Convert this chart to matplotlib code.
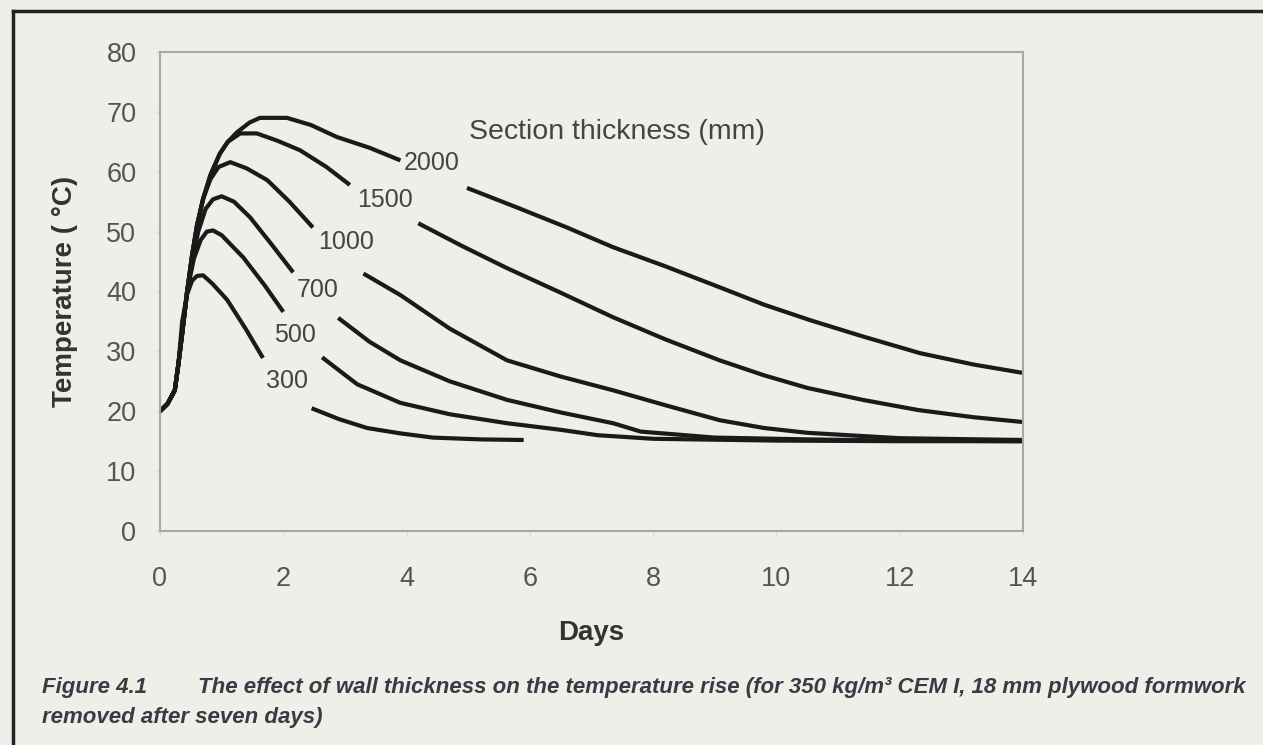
import numpy as np
import matplotlib.pyplot as plt
from matplotlib.lines import Line2D

plt.rcParams['font.family'] = ['Liberation Sans', 'DejaVu Sans']

nan = np.nan

# section thickness (mm) -> temperature curves, gap where the label sits
thickness = ['300', '500', '700', '1000', '1500', '2000']

days_300 = [0, 0.12, 0.24, 0.3, 0.36, 0.44, 0.52, 0.6, 0.7, 0.85, 1.09, 1.4, 1.67,
            nan, 2.46, 2.9, 3.36, 3.9, 4.43, 5.2, 5.9]
temp_300 = [20, 21.2, 23.5, 28, 35, 39.5, 41.8, 42.6, 42.7, 41.3, 38.6, 33.6, 28.9,
            nan, 20.5, 18.7, 17.2, 16.3, 15.6, 15.3, 15.2]

days_500 = [0, 0.12, 0.24, 0.3, 0.36, 0.44, 0.55, 0.66, 0.76, 0.86, 1.0, 1.35, 1.7, 2.0,
            nan, 2.63, 3.2, 3.9, 4.7, 5.63, 6.5, 7.1, 8.0, 10, 12, 14]
temp_500 = [20, 21.2, 23.5, 28, 33, 40, 45.5, 48.6, 50, 50.2, 49.4, 45.7, 41, 36.6,
            nan, 29.0, 24.5, 21.4, 19.5, 18.0, 16.9, 16.0, 15.4, 15.1, 15.0, 15.0]

days_700 = [0, 0.12, 0.24, 0.3, 0.36, 0.44, 0.52, 0.62, 0.74, 0.86, 1.0, 1.2, 1.46, 1.8, 2.16,
            nan, 2.89, 3.4, 3.9, 4.7, 5.63, 6.5, 7.35, 7.8, 9, 10.5, 12, 14]
temp_700 = [20, 21.2, 23.5, 28, 33, 40, 45, 50, 53.8, 55.4, 55.9, 55, 52.4, 48, 43.2,
            nan, 35.6, 31.6, 28.5, 25.0, 21.9, 19.8, 18.0, 16.6, 15.6, 15.3, 15.1, 15.0]

days_1000 = [0, 0.12, 0.24, 0.3, 0.36, 0.44, 0.52, 0.6, 0.7, 0.82, 0.95, 1.14, 1.4, 1.74, 2.1, 2.48,
             nan, 3.3, 3.9, 4.7, 5.63, 6.5, 7.35, 8.2, 9.08, 9.8, 10.5, 12, 14]
temp_1000 = [20, 21.2, 23.5, 28, 33, 40, 46, 51, 55.5, 58.8, 60.8, 61.6, 60.6, 58.6, 55.0, 50.7,
             nan, 43.0, 39.4, 33.8, 28.5, 25.8, 23.5, 21.0, 18.5, 17.2, 16.4, 15.5, 15.2]

days_1500 = [0, 0.12, 0.24, 0.3, 0.36, 0.44, 0.52, 0.6, 0.7, 0.82, 0.97, 1.1, 1.3, 1.57, 1.9, 2.27,
             2.7, 3.08, nan, 4.19, 4.9, 5.63, 6.5, 7.35, 8.2, 9.08, 9.8, 10.5, 11.4, 12.3, 13.2, 14]
temp_1500 = [20, 21.2, 23.5, 28, 33, 40, 46, 51, 55.5, 59.5, 63, 65, 66.4, 66.4, 65.2, 63.6,
             60.8, 57.8, nan, 51.4, 47.6, 43.9, 39.8, 35.7, 32.0, 28.5, 26.0, 23.9, 21.9, 20.2, 19.0, 18.2]

days_2000 = [0, 0.12, 0.24, 0.3, 0.36, 0.44, 0.52, 0.6, 0.7, 0.82, 0.97, 1.1, 1.25, 1.45, 1.62, 2.06,
             2.45, 2.87, 3.4, 3.9, nan, 4.98, 5.8, 6.6, 7.35, 8.2, 9.08, 9.8, 10.55, 11.4, 12.33, 13.2, 14]
temp_2000 = [20, 21.2, 23.5, 28, 33, 40, 46, 51, 55.5, 59.5, 63, 65, 66.6, 68.2, 69, 69,
             67.8, 65.8, 64.0, 61.9, nan, 57.3, 54.0, 50.7, 47.4, 44.2, 40.7, 37.8, 35.2, 32.5, 29.7, 27.8, 26.4]

label_x = [2.06, 2.19, 2.56, 3.02, 3.65, 4.41]
label_y = [25.0, 32.7, 40.2, 48.2, 55.3, 61.4]

series = [(days_300, temp_300), (days_500, temp_500), (days_700, temp_700),
          (days_1000, temp_1000), (days_1500, temp_1500), (days_2000, temp_2000)]

bg = '#efeee9'
fig = plt.figure(figsize=(12.63, 7.45), dpi=100, facecolor=bg)
ax = fig.add_axes([160/1263, 1 - 531/745, 863/1263, 479/745])
ax.set_facecolor(bg)

for d, t in series:
    ax.plot(d, t, color='#1a1a1a', lw=3.0, solid_capstyle='butt', solid_joinstyle='round')

for lab, lx, ly in zip(thickness, label_x, label_y):
    ax.text(lx, ly, lab, fontsize=18, color='#444444', ha='center', va='center')

ax.text(7.42, 66.7, 'Section thickness (mm)', fontsize=20.5, color='#444444',
        ha='center', va='center')

ax.set_xlim(0, 14)
ax.set_ylim(0, 80)
ax.set_xticks(range(0, 15, 2))
ax.set_yticks(range(0, 81, 10))
for s in ax.spines.values():
    s.set_color('#a8a8a8')
    s.set_linewidth(1.5)
ax.tick_params(length=3, color='#d8d8d8', labelsize=19.5, labelcolor='#555555')
ax.tick_params(axis='x', pad=22)
ax.tick_params(axis='y', pad=14)
ax.set_xlabel('Days', fontsize=20, fontweight='bold', color='#333333', labelpad=20)
ax.set_ylabel('Temperature ( °C)', fontsize=20, fontweight='bold', color='#333333', labelpad=20)

# frame lines of the page
fig.add_artist(Line2D([13/1263, 1], [1 - 11/745, 1 - 11/745], color='#222222', lw=2.5))
fig.add_artist(Line2D([13/1263, 13/1263], [0, 1 - 11/745], color='#222222', lw=2.5))

cap_font = dict(fontsize=16, color='#3a3a44', style='italic', fontweight='bold', va='center')
fig.text(42/1263, 1 - 688/745, 'Figure 4.1', **cap_font)
fig.text(198/1263, 1 - 688/745,
         'The effect of wall thickness on the temperature rise (for 350 kg/m³ CEM I, 18 mm plywood formwork',
         **cap_font)
fig.text(42/1263, 1 - 718/745, 'removed after seven days)', **cap_font)

fig.savefig('out.png', dpi=100, facecolor=bg)
